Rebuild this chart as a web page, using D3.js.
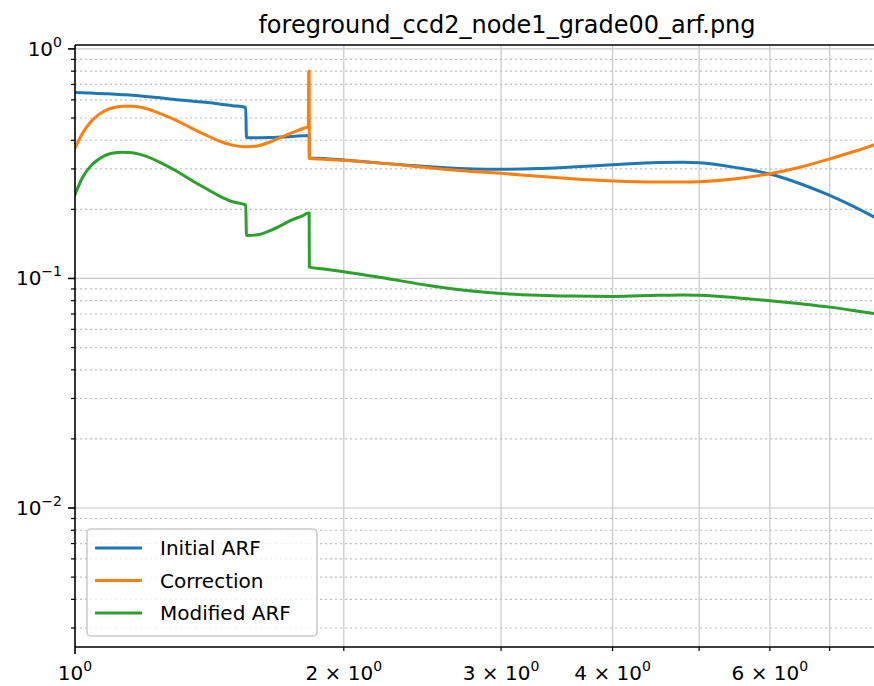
<!DOCTYPE html>
<html>
<head>
<meta charset="utf-8">
<script src="https://cdn.jsdelivr.net/npm/d3@7"></script>
<style>
  html, body { margin: 0; padding: 0; background: #fff; }
  svg { display: block; font-family: "DejaVu Sans", sans-serif; }
</style>
</head>
<body>
<svg id="chart" width="874" height="686"></svg>
<script>
// ---- data ----
const energy = [1.00,1.02,1.04,1.06,1.08,1.10,1.13,1.16,1.20,1.25,1.30,1.35,1.40,1.45,1.50,1.553,1.556,1.60,1.65,1.70,1.75,1.80,1.825,1.827,1.829,1.830,1.90,2.0,2.2,2.5,2.8,3.0,3.3,3.6,4.0,4.5,4.8,5.0,5.5,6.0,6.5,7.0,7.5,8.0];
const initialARF = [0.645,0.644,0.642,0.640,0.638,0.636,0.632,0.628,0.621,0.611,0.601,0.593,0.585,0.576,0.566,0.556,0.410,0.410,0.411,0.413,0.415,0.418,0.420,0.420,0.420,0.335,0.333,0.328,0.318,0.307,0.300,0.299,0.301,0.306,0.313,0.320,0.321,0.319,0.304,0.285,0.258,0.230,0.203,0.178];
const correction = [0.370,0.430,0.478,0.513,0.538,0.553,0.562,0.562,0.550,0.520,0.487,0.452,0.422,0.397,0.381,0.375,0.375,0.378,0.392,0.412,0.432,0.450,0.460,0.800,0.800,0.333,0.331,0.327,0.318,0.303,0.292,0.287,0.279,0.272,0.266,0.263,0.263,0.264,0.272,0.286,0.306,0.332,0.360,0.392];
const modifiedARF = [0.232,0.276,0.307,0.328,0.343,0.351,0.355,0.353,0.341,0.318,0.293,0.268,0.247,0.229,0.216,0.209,0.154,0.155,0.161,0.170,0.180,0.188,0.193,0.193,0.193,0.112,0.110,0.107,0.101,0.093,0.088,0.086,0.0845,0.0838,0.0835,0.0845,0.0848,0.0845,0.0825,0.0800,0.0775,0.0750,0.0722,0.0695];
const seriesNames = ["Initial ARF", "Correction", "Modified ARF"];
const seriesColors = ["#1f77b4", "#ff7f0e", "#2ca02c"];
const xTickValues = [1, 2, 3, 4, 5, 6, 7, 8, 9];
const xTickLabels = {1: ["10", "0"], 2: ["2 × 10", "0"], 3: ["3 × 10", "0"], 4: ["4 × 10", "0"], 6: ["6 × 10", "0"]};
const yMajorTicks = [1, 0.1, 0.01];
const yMajorLabels = [["10", "0"], ["10", "−1"], ["10", "−2"]];
const titleText = "foreground_ccd2_node1_grade00_arf.png";

// ---- layout ----
const svg = d3.select("#chart");
const W = 874, H = 686;
const mLeft = 75, mTop = 45, mBottom = 647;
const axRight = 939; // axes extend past the image edge
const x = d3.scaleLog().domain([1, 9.28]).range([mLeft, axRight]);
const y = d3.scaleLog().domain([0.00248, 1.04]).range([mBottom, mTop]);

// minor y ticks
const yMinor = [];
[0.001, 0.01, 0.1].forEach(d => { for (let k = 2; k <= 9; k++) { const v = d * k; if (v >= 0.00248 && v <= 1.04) yMinor.push(v); } });

// grid
const grid = svg.append("g");
xTickValues.filter(v => v > 1).forEach(v => {
  grid.append("line").attr("x1", x(v)).attr("x2", x(v)).attr("y1", mTop).attr("y2", mBottom)
    .attr("stroke", "#c8c8c8").attr("stroke-width", 1.2);
});
yMinor.forEach(v => {
  grid.append("line").attr("x1", mLeft).attr("x2", W).attr("y1", y(v)).attr("y2", y(v))
    .attr("stroke", "#bdbdbd").attr("stroke-width", 1.2).attr("stroke-dasharray", "2,3");
});
yMajorTicks.forEach(v => {
  grid.append("line").attr("x1", mLeft).attr("x2", W).attr("y1", y(v)).attr("y2", y(v))
    .attr("stroke", "#c8c8c8").attr("stroke-width", 1.2);
});

// clip
svg.append("clipPath").attr("id", "clip").append("rect")
  .attr("x", mLeft).attr("y", mTop).attr("width", axRight - mLeft).attr("height", mBottom - mTop);

const seriesData = [initialARF, correction, modifiedARF];
const line = d3.line().x(d => x(d[0])).y(d => y(d[1])).curve(d3.curveMonotoneX);
const lines = svg.append("g").attr("clip-path", "url(#clip)");
seriesData.forEach((vals, i) => {
  lines.append("path").datum(energy.map((e, j) => [e, vals[j]]))
    .attr("d", line).attr("fill", "none").attr("stroke", seriesColors[i])
    .attr("stroke-width", 3).attr("stroke-linejoin", "round").attr("stroke-linecap", "square");
});

// spines
const spine = svg.append("g").attr("stroke", "#000").attr("stroke-width", 1.6);
spine.append("line").attr("x1", mLeft).attr("x2", mLeft).attr("y1", mTop).attr("y2", mBottom);
spine.append("line").attr("x1", mLeft).attr("x2", W).attr("y1", mBottom).attr("y2", mBottom);
spine.append("line").attr("x1", mLeft).attr("x2", W).attr("y1", mTop).attr("y2", mTop);

// y ticks
yMajorTicks.forEach((v, i) => {
  svg.append("line").attr("x1", mLeft - 7).attr("x2", mLeft).attr("y1", y(v)).attr("y2", y(v)).attr("stroke", "#000").attr("stroke-width", 1.6);
  const t = svg.append("text").attr("x", mLeft - 13).attr("y", y(v) + 7).attr("text-anchor", "end")
    .attr("font-size", 20).attr("fill", "#000");
  t.append("tspan").text(yMajorLabels[i][0]);
  t.append("tspan").attr("dy", -9).attr("font-size", 14).text(yMajorLabels[i][1]);
});
yMinor.forEach(v => {
  svg.append("line").attr("x1", mLeft - 4).attr("x2", mLeft).attr("y1", y(v)).attr("y2", y(v)).attr("stroke", "#000").attr("stroke-width", 1.2);
});

// x ticks
xTickValues.forEach(v => {
  const px = x(v);
  if (px > W) return;
  const len = v === 1 ? 7 : 4;
  svg.append("line").attr("x1", px).attr("x2", px).attr("y1", mBottom).attr("y2", mBottom + len).attr("stroke", "#000").attr("stroke-width", v === 1 ? 1.6 : 1.2);
  if (xTickLabels[v]) {
    const t = svg.append("text").attr("x", px).attr("y", mBottom + 33).attr("text-anchor", "middle")
      .attr("font-size", 20).attr("fill", "#000");
    t.append("tspan").text(xTickLabels[v][0]);
    t.append("tspan").attr("dy", -9).attr("font-size", 14).text(xTickLabels[v][1]);
  }
});

// title
svg.append("text").attr("x", (mLeft + axRight) / 2).attr("y", 33).attr("text-anchor", "middle")
  .attr("font-size", 24).attr("fill", "#000").text(titleText);

// legend
const lg = svg.append("g");
lg.append("rect").attr("x", 87).attr("y", 529).attr("width", 230).attr("height", 107)
  .attr("rx", 4).attr("fill", "#fff").attr("fill-opacity", 0.8).attr("stroke", "#cccccc").attr("stroke-width", 1.6);
seriesNames.forEach((n, i) => {
  const yy = 548 + i * 32.5;
  lg.append("line").attr("x1", 95).attr("x2", 142).attr("y1", yy).attr("y2", yy)
    .attr("stroke", seriesColors[i]).attr("stroke-width", 3);
  lg.append("text").attr("x", 160).attr("y", yy + 7).attr("font-size", 20).attr("fill", "#000").text(n);
});
</script>
</body>
</html>
